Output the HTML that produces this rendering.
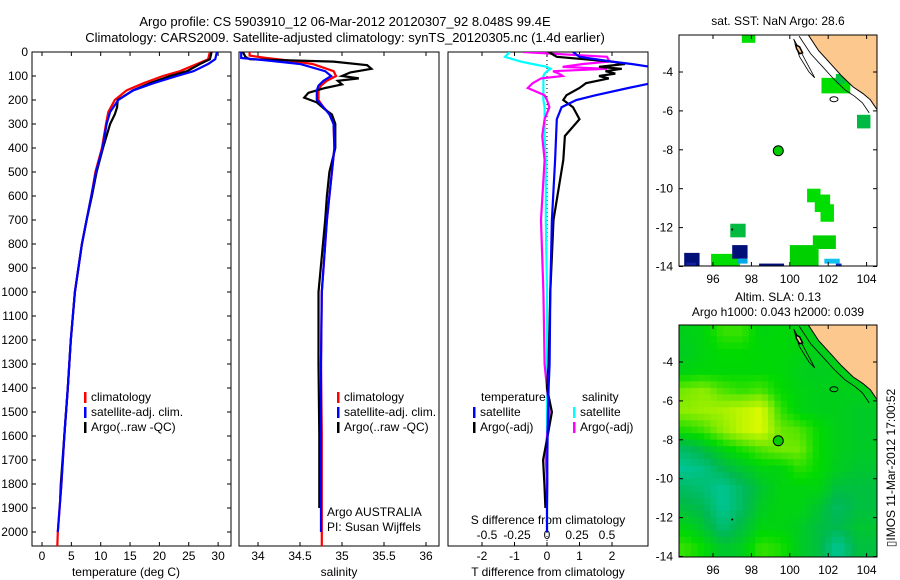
<!DOCTYPE html>
<html><head><meta charset="utf-8"><style>
html,body{margin:0;padding:0;background:#fff;}
svg{display:block;font-family:"Liberation Sans",sans-serif;}
text{font-size:12px;fill:#000;}
</style></head><body>
<svg id="fig" width="900" height="580" viewBox="0 0 900 580" xmlns="http://www.w3.org/2000/svg">
<text x="345" y="26" text-anchor="middle" style="font-size:13px">Argo profile: CS 5903910_12 06-Mar-2012 20120307_92 8.048S 99.4E</text>
<text x="345" y="42" text-anchor="middle" style="font-size:13px">Climatology: CARS2009. Satellite-adjusted climatology: synTS_20120305.nc (1.4d earlier)</text>
<text x="778" y="25" text-anchor="middle">sat. SST: NaN Argo: 28.6</text>
<text x="778" y="301" text-anchor="middle">Altim. SLA: 0.13</text>
<text x="778" y="316" text-anchor="middle">Argo h1000: 0.043 h2000: 0.039</text>
<text transform="translate(895,468) rotate(-90)" text-anchor="middle">▯IMOS 11-Mar-2012 17:00:52</text>
<g id="g"></g>
</svg>
<script>
// ---- data ----
const depthTicks=[0,100,200,300,400,500,600,700,800,900,1000,1100,1200,1300,1400,1500,1600,1700,1800,1900,2000];
const tTicks=[0,5,10,15,20,25,30];
const sTicks=[34,34.5,35,35.5,36];
const sTickLabels=["34","34.5","35","35.5","36"];
const dTTicks=[-2,-1,0,1,2];
const dSTicks=[-0.5,-0.25,0,0.25,0.5];
const dSTickLabels=["-0.5","-0.25","0","0.25","0.5"];

const tDepthArgo=[0,30,50,80,100,130,160,200,230,260,300,400,500,600,700,800,900,1000,1200,1400,1600,1800,1860];
const tArgo=[28.9,28.6,26.9,24.7,21.8,18.4,15.5,12.9,12.8,12.4,11.6,10.4,9.3,8.5,7.6,6.8,6.2,5.6,4.9,4.4,3.8,3.2,3.1];
const tDepthClim=[0,30,50,80,100,130,160,200,250,300,400,500,600,700,800,900,1000,1200,1400,1600,1800,2000,2060];
const tSat=[29.8,29.5,28.3,25.8,23,19,15.5,13,11.6,11,10.3,9.2,8.4,7.6,6.8,6.2,5.6,4.9,4.4,3.8,3.3,2.7,null];
const tClim=[28.6,28.3,26.4,23.5,20.6,17.3,14.4,12.4,11.3,10.9,10.2,9.1,8.4,7.6,6.8,6.2,5.6,4.9,4.4,3.8,3.3,2.7,2.6];

const sDepthArgo=[0,20,30,40,55,70,85,100,110,120,135,150,170,190,210,240,260,300,400,500,600,700,1000,1300,1600,1900];
const sArgo=[33.82,33.85,33.9,34.9,35.3,35.35,35.1,35.0,35.2,34.95,35.0,34.8,34.6,34.55,34.7,34.8,34.88,34.92,34.92,34.85,34.82,34.8,34.72,34.72,34.73,34.73];
const sDepthClim=[0,15,25,35,50,80,100,120,140,160,200,230,260,300,400,500,700,1000,1300,1600,2000,2060];
const sSat=[33.8,33.8,33.8,34.1,34.5,34.8,34.87,34.78,34.72,34.7,34.7,34.78,34.85,34.9,34.91,34.88,34.82,34.76,34.75,34.75,34.75,null];
const sClim=[33.9,33.9,34.1,34.35,34.65,34.9,34.93,34.82,34.75,34.72,34.72,34.78,34.86,34.9,34.91,34.88,34.82,34.76,34.75,34.76,34.76,34.76];

const dDepth=[0,20,40,50,62,70,80,90,100,110,130,150,180,200,230,280,350,450,700,1000,1300,1400,1500,1600,1700,1800,1900,2000];
const dTSat=[0.8,1.0,2.0,2.6,3.2,3.2,3.2,3.2,3.2,3.2,3.2,2.5,1.5,0.9,0.45,0.3,0.28,0.25,0.15,0.1,0.08,0.05,0.03,0.02,0.01,0.01,0,0];
const dTArgo=[0.05,0.3,2.0,2.4,1.6,2.3,1.8,2.1,1.6,1.9,1.2,1.0,0.6,0.5,0.8,1.0,0.55,0.5,0.2,0.1,0.05,0.0,0.15,0.02,-0.12,-0.08,-0.05,null];
const dSSat=[-0.31,-0.35,-0.22,-0.12,0.0,0.03,0.0,-0.02,-0.03,-0.03,-0.03,-0.03,-0.03,-0.03,-0.02,-0.02,-0.02,-0.01,-0.01,0,0,0,0,0,0,0,0,0];
const dSArgo=[-0.2,0.5,0.52,0.3,0.13,0.5,0.05,0.1,0.13,-0.05,-0.12,-0.16,-0.02,0.0,0.02,-0.02,-0.04,-0.02,-0.05,-0.03,-0.02,0.0,0.02,0.0,-0.01,0.0,-0.01,null];

const mapLonTicks=[96,98,100,102,104];
const mapLatTicks=[-4,-6,-8,-10,-12,-14];
const argoLon=99.4, argoLat=-8.05;
const sstLon=[97.5,101.65,102.4,103.5,100.9,101.3,101.6,96.9,94.5,94.6,95.9,97.0,97.3,98.4,100.0,101.2,101.8,102.4];
const sstLat=[-2.0,-4.3,-4.1,-6.2,-10.0,-10.3,-10.8,-11.8,-13.3,-13.8,-13.35,-12.9,-13.6,-13.85,-12.9,-12.4,-13.6,-13.85];
const sstW=[0.7,1.5,0.5,0.7,0.7,0.8,0.7,0.8,0.8,0.5,1.5,0.8,0.5,1.3,1.5,1.2,0.8,0.3];
const sstH=[0.5,0.8,0.5,0.7,0.7,0.9,0.9,0.7,0.7,0.2,0.7,0.7,0.25,0.2,1.2,0.7,0.25,0.2];
const sstC=["#00e000","#00dd00","#00c040","#00b844","#00dd00","#00dd00","#00e000","#00bb40","#001078","#1020a0","#00dd00","#001078","#00a8e8","#001078","#00d000","#00d000","#10c0f0","#1030c0"];
const slaGrid=[
[0.42,0.45,0.6,0.6,0.45,0.48,0.45,0.42,0.42,0.42],
[0.4,0.45,0.5,0.5,0.48,0.48,0.45,0.42,0.42,0.42],
[0.45,0.48,0.48,0.48,0.48,0.48,0.42,0.4,0.42,0.42],
[0.72,0.78,0.65,0.6,0.65,0.5,0.45,0.42,0.42,0.42],
[0.78,0.82,0.85,0.92,1.0,0.6,0.45,0.42,0.42,0.38],
[0.55,0.62,0.78,0.92,1.0,0.7,0.65,0.5,0.42,0.38],
[0.2,0.3,0.45,0.55,0.65,0.72,0.72,0.5,0.42,0.38],
[0.05,0.1,0.25,0.35,0.45,0.45,0.58,0.5,0.4,0.35],
[0.2,0.15,0.05,0.2,0.35,0.45,0.45,0.45,0.3,0.3],
[0.3,0.25,0.05,0.2,0.4,0.45,0.45,0.35,0.2,0.3],
[0.45,0.35,0.15,0.3,0.45,0.45,0.4,0.3,0.25,0.35],
[0.6,0.5,0.35,0.4,0.6,0.55,0.4,0.3,0.05,0.3]];
const coastLon=[100.9,101.5,102.1,102.7,103.3,103.8,104.2,104.55,104.7,104.7];
const coastLat=[-2.0,-2.9,-3.55,-4.2,-4.77,-5.1,-5.43,-5.95,-5.95,-2.0];

// ---- helpers ----
const NS="http://www.w3.org/2000/svg";
const G=document.getElementById('g');
function mk(tag,at,parent){const e=document.createElementNS(NS,tag);for(const k in at)e.setAttribute(k,at[k]);(parent||G).appendChild(e);return e;}
function txt(x,y,s,anchor){const t=mk('text',{x:x,y:y,'text-anchor':anchor||'middle'});t.textContent=s;return t;}
const yD=d=>52+d*0.24;
const panTop=52,panBot=546;
const xT=v=>42+v*5.87, xS=v=>258+(v-34)*84, xDT=v=>547+v*32.5, xDS=v=>547+v*120;

function frame(x0,x1,name){
  const r=mk('rect',{x:x0,y:panTop,width:x1-x0,height:panBot-panTop,fill:'none',stroke:'#000','stroke-width':1});
  
  
}
function line(xs,ds,xf,color,name,clip){
  let p='';let first=true;
  for(let i=0;i<ds.length;i++){if(xs[i]===null||xs[i]===undefined){continue;}p+=(first?'M':'L')+xf(xs[i]).toFixed(1)+','+yD(ds[i]).toFixed(1);first=false;}
  const e=mk('path',{d:p,fill:'none',stroke:color,'stroke-width':2.2,'clip-path':clip});
  
  
}
const defs=mk('defs',{});
[['c1',32,231],['c2',239,439],['c3',448,648]].forEach(c=>{const cp=mk('clipPath',{id:c[0]},defs);mk('rect',{x:c[1],y:panTop,width:c[2]-c[1],height:panBot-panTop},cp);});

// Panel 1
frame(32,231,'temperature-panel');
depthTicks.forEach(d=>{
  const y=yD(d);
  mk('line',{x1:32,y1:y,x2:36,y2:y,stroke:'#000'});mk('line',{x1:227,y1:y,x2:231,y2:y,stroke:'#000'});
  const t=txt(28,y+4,String(d),'end');
  
  
});
tTicks.forEach(v=>{const x=xT(v);mk('line',{x1:x,y1:panTop,x2:x,y2:panTop+4,stroke:'#000'});mk('line',{x1:x,y1:panBot,x2:x,y2:panBot-4,stroke:'#000'});
  const t=txt(x,560,String(v));});
{const t=txt(126,576,'temperature (deg C)');}
line(tClim,tDepthClim,xT,'#ff0000','temperature-climatology','url(#c1)');
line(tArgo,tDepthArgo,xT,'#000000','temperature-argo','url(#c1)');
line(tSat,tDepthClim,xT,'#0000ff','temperature-satellite','url(#c1)');

// Panel 2
frame(239,439,'salinity-panel');
sTicks.forEach((v,i)=>{const x=xS(v);mk('line',{x1:x,y1:panTop,x2:x,y2:panTop+4,stroke:'#000'});mk('line',{x1:x,y1:panBot,x2:x,y2:panBot-4,stroke:'#000'});
  const t=txt(x,560,sTickLabels[i]);});
{const t=txt(339,576,'salinity');}
line(sClim,sDepthClim,xS,'#ff0000','salinity-climatology','url(#c2)');
line(sArgo,sDepthArgo,xS,'#000000','salinity-argo','url(#c2)');
line(sSat,sDepthClim,xS,'#0000ff','salinity-satellite','url(#c2)');
txt(327,516,'Argo AUSTRALIA','start');txt(327,531,'PI: Susan Wijffels','start');

// Panel 3
frame(448,648,'difference-panel');
mk('line',{x1:547,y1:panTop,x2:547,y2:panBot,stroke:'#000','stroke-dasharray':'1,3'});
dTTicks.forEach(v=>{const x=xDT(v);mk('line',{x1:x,y1:panTop,x2:x,y2:panTop+4,stroke:'#000'});mk('line',{x1:x,y1:panBot,x2:x,y2:panBot-4,stroke:'#000'});
  const t=txt(x,560,String(v));});
dSTicks.forEach((v,i)=>{const t=txt(xDS(v),539,dSTickLabels[i]);});
txt(548,524,'S difference from climatology');
{const t=txt(548,576,'T difference from climatology');}
line(dSSat,dDepth,xDS,'#00ffff','s-diff-satellite','url(#c3)');
line(dSArgo,dDepth,xDS,'#ff00ff','s-diff-argo','url(#c3)');
line(dTArgo,dDepth,xDT,'#000000','t-diff-argo','url(#c3)');
line(dTSat,dDepth,xDT,'#0000ff','t-diff-satellite','url(#c3)');

// Legends
function leg(x,y,color,label){mk('rect',{x:x,y:y-9,width:2.5,height:11,fill:color});const t=txt(x+7,y,label,'start');
  }
[[84],[337]].forEach(p=>{leg(p[0],401,'#ff0000','climatology');leg(p[0],416,'#0000ff','satellite-adj. clim.');leg(p[0],431,'#000','Argo(..raw -QC)');});
txt(481,401,'temperature','start');leg(473,416,'#0000ff','satellite');leg(473,431,'#000','Argo(-adj)');
txt(582,401,'salinity','start');leg(573,416,'#00ffff','satellite');leg(573,431,'#ff00ff','Argo(-adj)');

// Maps
function mapAxes(top,bot,lat0y){
  const L=679,R=877;
  const xL=lon=>713+(lon-96)*19.2, yL=lat=>lat0y+(-4-lat)*19.45;
  const cpId='m'+top;const cp=mk('clipPath',{id:cpId},defs);mk('rect',{x:L,y:top,width:R-L,height:bot-top},cp);
  return {L,R,top,bot,xL,yL,clip:'url(#'+cpId+')'};
}
function mapFrame(m,name){
  const r=mk('rect',{x:m.L,y:m.top,width:m.R-m.L,height:m.bot-m.top,fill:'none',stroke:'#000'});
  
  mapLonTicks.forEach(v=>{const x=m.xL(v);mk('line',{x1:x,y1:m.top,x2:x,y2:m.top+4,stroke:'#000'});mk('line',{x1:x,y1:m.bot,x2:x,y2:m.bot-4,stroke:'#000'});
    const t=txt(x,m.bot+17,String(v));});
  mapLatTicks.forEach(v=>{const y=m.yL(v);mk('line',{x1:m.L,y1:y,x2:m.L+4,y2:y,stroke:'#000'});mk('line',{x1:m.R,y1:y,x2:m.R-4,y2:y,stroke:'#000'});
    const t=txt(m.L-6,y+4,String(v),'end');});
}
function land(m){
  const gg=mk('g',{'clip-path':m.clip});
  let p='';coastLon.forEach((lo,i)=>{p+=(i?'L':'M')+m.xL(lo).toFixed(1)+','+m.yL(coastLat[i]).toFixed(1);});
  const e=mk('path',{d:p+'Z',fill:'#fcc88e',stroke:'#000','stroke-width':1},gg);
  
  let q='';coastLon.slice(0,8).forEach((lo,i)=>{q+=(i?'L':'M')+(m.xL(lo)-8).toFixed(1)+','+(m.yL(coastLat[i])+3).toFixed(1);});
  mk('path',{d:q,fill:'none',stroke:'#000','stroke-width':0.8},gg);
  mk('path',{d:`M${m.xL(100.2)},${m.yL(-2.3)} L${m.xL(100.6)},${m.yL(-3.0)} L${m.xL(101.3)},${m.yL(-4.3)} L${m.xL(101.0)},${m.yL(-4.0)} L${m.xL(100.5)},${m.yL(-3.2)}Z`,fill:'none',stroke:'#000','stroke-width':0.8},gg);
  mk('path',{d:`M${m.xL(100.3)},${m.yL(-2.6)} l4,2 l3,6 l-3,1 l-3,-5Z`,fill:'#fcc88e',stroke:'#000','stroke-width':1.5},gg);
  mk('ellipse',{cx:m.xL(102.3),cy:m.yL(-5.4),rx:4,ry:2.5,fill:'none',stroke:'#000','stroke-width':1},gg);
  mk('circle',{cx:m.xL(97.0),cy:m.yL(-12.1),r:1,fill:'#000'},gg);
}
// Map 1 (SST)
const m1=mapAxes(35,266,72);
{const gg=mk('g',{'clip-path':m1.clip});
 sstLon.forEach((lo,i)=>{const r=mk('rect',{x:m1.xL(lo),y:m1.yL(sstLat[i]),width:sstW[i]*19.2,height:sstH[i]*19.45,fill:sstC[i]},gg);
  });}
land(m1);
{const c=mk('circle',{cx:m1.xL(argoLon),cy:m1.yL(argoLat),r:5,fill:'#00cc00',stroke:'#000'});}
mapFrame(m1,'sst-map');
// Map 2 (SLA)
const m2=mapAxes(325,557,362);
const stops=[[0,200,165],[0,185,80],[0,218,0],[130,235,0],[220,250,0]];
function slaColor(v){
  v=Math.max(0,Math.min(1,v));const f=v*4;const i=Math.min(3,Math.floor(f));const t=f-i;
  const p=stops[i],q=stops[i+1];
  return 'rgb('+p.map((x,k)=>Math.round(x+(q[k]-x)*t)).join(',')+')';
}
function slaAt(lon,lat){
  let c=lon-94.5, r=-2.5-lat;
  c=Math.max(0,Math.min(slaGrid[0].length-1,c)); r=Math.max(0,Math.min(slaGrid.length-1,r));
  const c0=Math.floor(c),r0=Math.floor(r),c1=Math.min(c0+1,slaGrid[0].length-1),r1=Math.min(r0+1,slaGrid.length-1);
  const fc=c-c0,fr=r-r0;
  return slaGrid[r0][c0]*(1-fc)*(1-fr)+slaGrid[r0][c1]*fc*(1-fr)+slaGrid[r1][c0]*(1-fc)*fr+slaGrid[r1][c1]*fc*fr;
}
{const gg=mk('g',{'clip-path':m2.clip});
 for(let lat=-2;lat>-14;lat-=0.333){
  for(let lon=94.2;lon<104.8;lon+=0.333){
    const e=mk('rect',{x:m2.xL(lon).toFixed(1),y:m2.yL(lat).toFixed(1),width:6.9,height:7,fill:slaColor(slaAt(lon+0.17,lat-0.17))},gg);
    
    
  }
 }}
land(m2);
{const c=mk('circle',{cx:m2.xL(argoLon),cy:m2.yL(argoLat),r:5,fill:'#00cc00',stroke:'#000'});}
mapFrame(m2,'sla-map');
</script>
</body></html>
